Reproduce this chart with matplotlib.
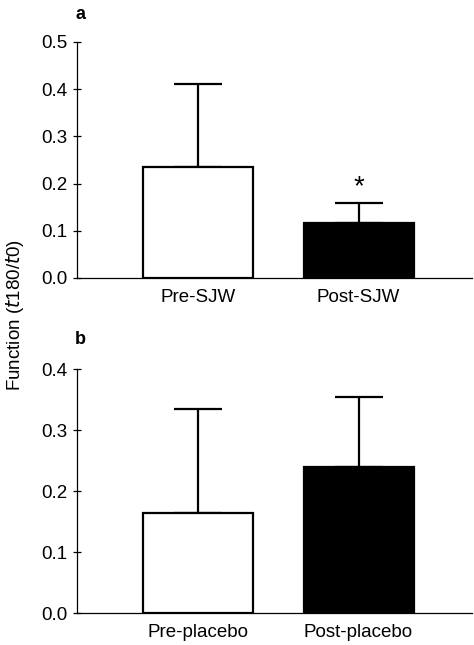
import matplotlib
matplotlib.use("Agg")
import matplotlib.pyplot as plt
import numpy as np

plt.rcParams['font.family'] = ['Liberation Sans', 'DejaVu Sans']

cats_a = ["Pre-SJW", "Post-SJW"]
means_a = [0.235, 0.116]
errs_a = [0.176, 0.042]
cats_b = ["Pre-placebo", "Post-placebo"]
means_b = [0.164, 0.239]
errs_b = [0.170, 0.115]
colors = ["white", "black"]
yticks_a = [0.0, 0.1, 0.2, 0.3, 0.4, 0.5]
yticks_b = [0.0, 0.1, 0.2, 0.3, 0.4]

fig = plt.figure(figsize=(4.74, 6.45), dpi=100)
ax_a = fig.add_axes([0.1624, 0.569, 0.8334, 0.3659])
ax_b = fig.add_axes([0.1624, 0.0496, 0.8334, 0.3783])

def draw(ax, cats, means, errs, yticks, ymax):
    x = np.arange(len(cats))
    ax.bar(x, means, width=0.685, color=colors, edgecolor="black", linewidth=1.6, zorder=3)
    ax.errorbar(x, means, yerr=[np.zeros(len(errs)), errs], fmt="none", ecolor="black",
                elinewidth=1.6, capsize=17, capthick=1.6, zorder=2)
    ax.set_xlim(-0.754, 1.707)
    ax.set_ylim(0, ymax)
    ax.set_yticks(yticks)
    ax.set_yticklabels([f"{v:.1f}" for v in yticks])
    ax.set_xticks(x)
    ax.set_xticklabels(cats)
    ax.spines["top"].set_visible(False)
    ax.spines["right"].set_visible(False)
    ax.spines["left"].set_linewidth(0.9)
    ax.spines["bottom"].set_linewidth(0.9)
    ax.tick_params(axis="y", direction="inout", length=6, width=0.9, labelsize=13.5, pad=4)
    ax.tick_params(axis="x", length=0, labelsize=13.5, pad=8)
    return x

xa = draw(ax_a, cats_a, means_a, errs_a, yticks_a, 0.5)
draw(ax_b, cats_b, means_b, errs_b, yticks_b, 0.4)

ax_a.text(xa[1], means_a[1] + errs_a[1] + 0.006, "*", ha="center", va="bottom", fontsize=20)

fig.text(0.169, 0.978, "a", fontweight="bold", fontsize=13, ha="center", va="center")
fig.text(0.169, 0.474, "b", fontweight="bold", fontsize=13, ha="center", va="center")
fig.text(0.032, 0.512, r"Function ($\it{t}$180/$\it{t}$0)", rotation=90, ha="center", va="center", fontsize=13.5)

fig.savefig("out.png", dpi=100)
